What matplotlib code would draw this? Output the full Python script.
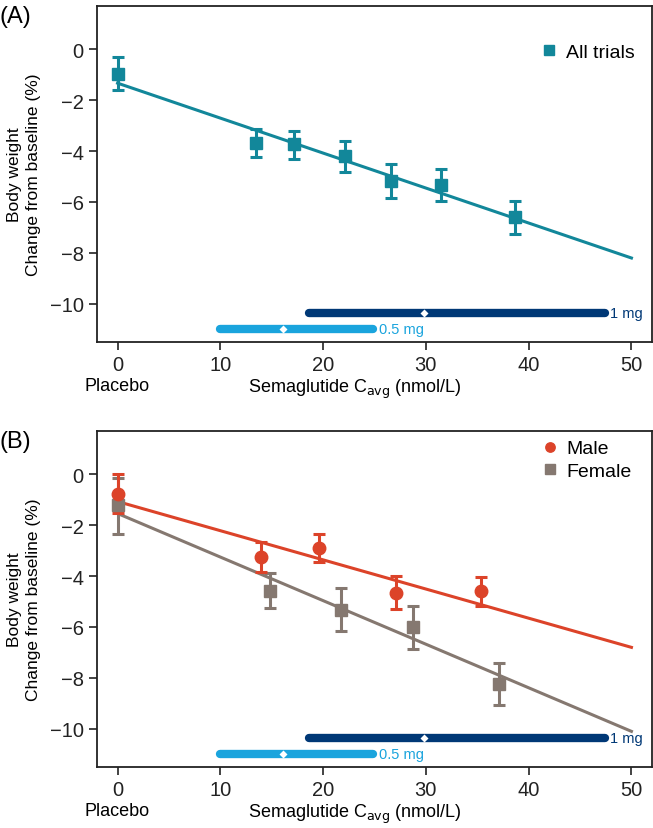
import numpy as np
import matplotlib
matplotlib.use("Agg")
import matplotlib.pyplot as plt

plt.rcParams['font.family'] = ['Liberation Sans', 'DejaVu Sans']

# panel A - all trials
a_x = [0, 13.5, 17.2, 22.1, 26.6, 31.5, 38.7]
a_y = [-0.97, -3.69, -3.74, -4.18, -5.16, -5.33, -6.6]
a_lo = [-1.6, -4.25, -4.31, -4.81, -5.85, -5.95, -7.25]
a_hi = [-0.3, -3.14, -3.2, -3.6, -4.51, -4.7, -5.97]
a_line = [-1.33, -8.2]   # fitted value at x=0 and x=50

# panel B - by sex
m_x = [0, 14.0, 19.6, 27.05, 35.4]
m_y = [-0.76, -3.24, -2.91, -4.68, -4.6]
m_lo = [-1.54, -3.85, -3.46, -5.29, -5.19]
m_hi = [0.0, -2.65, -2.35, -4.01, -4.05]
m_line = [-1.07, -6.8]

f_x = [0, 14.8, 21.7, 28.7, 37.1]
f_y = [-1.22, -4.58, -5.33, -6.01, -8.24]
f_lo = [-2.33, -5.27, -6.17, -6.86, -9.06]
f_hi = [-0.15, -3.86, -4.48, -5.16, -7.41]
f_line = [-1.54, -10.1]

line_x = [0, 50]

# exposure ranges (min, median, max) per dose
dose_labels = ['0.5 mg', '1 mg']
dose_rng = [(10, 16.1, 24.9), (18.6, 29.8, 47.4)]
dose_y = [-11.0, -10.38]
dose_cols = ['#1aa4dd', '#003876']

teal = '#12879a'
red = '#dc4329'
grey = '#857870'


def draw_series(ax, x, y, lo, hi, fit, col, marker, label, ms):
    y = np.array(y)
    yerr = [y - np.array(lo), np.array(hi) - y]
    ax.plot(line_x, fit, color=col, lw=2.2, zorder=2)
    ax.errorbar(x, y, yerr=yerr, fmt='none', ecolor=col, elinewidth=2.2,
                capsize=4.5, capthick=2.2, zorder=3)
    ax.plot(x, y, ls='none', marker=marker, color=col, ms=ms, zorder=4, label=label)


def draw_doses(ax):
    for lab, (lo, med, hi), yy, col in zip(dose_labels, dose_rng, dose_y, dose_cols):
        ax.plot([lo, hi], [yy, yy], color=col, lw=6, solid_capstyle='round', zorder=2)
        ax.plot(med, yy, marker='D', color='white', ms=4.5, mec='none', zorder=3)
        ax.text(hi + 0.5, yy, lab, color=col, fontsize=10.5, va='center', ha='left')


def style_axes(ax, panel):
    ax.set_xlim(-2, 52)
    ax.set_ylim(-11.5, 1.7)
    ax.set_xticks([0, 10, 20, 30, 40, 50])
    ax.set_yticks([0, -2, -4, -6, -8, -10])
    ax.set_yticklabels(['0', '\u22122', '\u22124', '\u22126', '\u22128', '\u221210'])
    ax.tick_params(labelsize=14.5, length=6, width=1.2, colors='#222222')
    for s in ax.spines.values():
        s.set_linewidth(1.3)
        s.set_color('#222222')
    ax.set_ylabel('Body weight\nChange from baseline (%)', fontsize=12.5, labelpad=6,
                  linespacing=1.35)
    ax.text(0, -0.105, 'Placebo', transform=ax.get_xaxis_transform(), ha='center',
            va='top', fontsize=13)
    ax.text(0.465, -0.105, 'Semaglutide C$_{\\mathrm{avg}}$ (nmol/L)',
            transform=ax.transAxes, ha='center', va='top', fontsize=13)
    ax.text(-0.175, 0.97, panel, transform=ax.transAxes, fontsize=17, va='center', ha='left')


fig = plt.figure(figsize=(6.53, 8.29), dpi=100)
axA = fig.add_axes([97 / 653, 1 - 343 / 829, 555 / 653, 336 / 829])
axB = fig.add_axes([97 / 653, 1 - 768 / 829, 555 / 653, 336 / 829])

draw_series(axA, a_x, a_y, a_lo, a_hi, a_line, teal, 's', 'All trials', 9)
draw_doses(axA)
style_axes(axA, '(A)')
axA.legend(loc='center right', frameon=False, fontsize=14, handletextpad=0.35,
           handlelength=1.0, markerscale=0.75, bbox_to_anchor=(1.0, 0.863))

draw_series(axB, f_x, f_y, f_lo, f_hi, f_line, grey, 's', 'Female', 9)
draw_series(axB, m_x, m_y, m_lo, m_hi, m_line, red, 'o', 'Male', 9)
draw_doses(axB)
style_axes(axB, '(B)')
h, l = axB.get_legend_handles_labels()
axB.legend([h[1], h[0]], [l[1], l[0]], loc='center right', frameon=False, fontsize=14,
           handletextpad=0.35, handlelength=1.0, markerscale=0.75, labelspacing=0.25,
           bbox_to_anchor=(0.995, 0.914))

fig.savefig('out.png', dpi=100)
